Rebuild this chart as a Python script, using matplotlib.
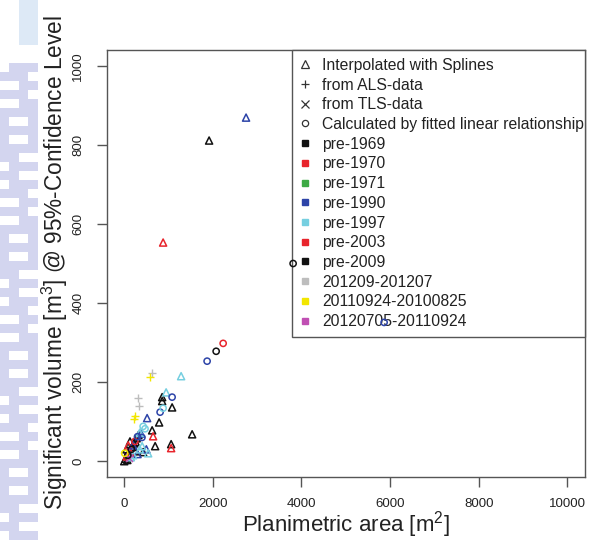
import numpy as np
import matplotlib
matplotlib.use("Agg")
import matplotlib.pyplot as plt
from matplotlib.lines import Line2D
from matplotlib.colors import ListedColormap

plt.rcParams["font.family"] = ["Liberation Sans", "DejaVu Sans"]
plt.rcParams["mathtext.fontset"] = "custom"
plt.rcParams["mathtext.rm"] = "Liberation Sans"
plt.rcParams["mathtext.it"] = "Liberation Sans:italic"

# data: planimetric area, volume, method, period
area = [2750, 1916, 878, 2233, 2075, 1871, 3812, 5866,
        585, 630, 1284, 313, 336, 246, 220, 946, 856, 856, 1081, 1081,
        878, 810, 517, 788, 630, 427, 470, 652, 1533, 1059, 1059, 698,
        404, 427, 500, 540,
        30, 55, 80, 100, 120, 140, 160, 180, 200, 220, 240, 260, 280,
        300, 320, 350, 380, 150, 200, 250, 300, 350, 10, 50, 90, 130,
        400, 0, 70, 110]
volume = [869, 811, 553, 298, 278, 253, 500, 351,
          212, 222, 215, 159, 139, 114, 106, 174, 162, 152, 162, 136,
          134, 124, 109, 98, 78, 88, 82, 63, 68, 43, 33, 38,
          38, 23, 30, 20,
          6, 12, 15, 20, 25, 22, 30, 36, 40, 45, 50, 48, 58,
          62, 66, 72, 70, 10, 15, 25, 18, 30, 20, 30, 40, 50,
          60, 0, 3, 8]
method = ["spline", "spline", "spline", "fit", "fit", "fit", "fit", "fit",
          "ALS", "ALS", "spline", "ALS", "ALS", "ALS", "ALS", "spline",
          "spline", "spline", "fit", "spline",
          "fit", "fit", "spline", "spline", "spline", "fit", "fit", "spline",
          "spline", "spline", "spline", "spline",
          "spline", "spline", "spline", "spline",
          "spline", "spline", "fit", "spline", "spline", "spline", "fit",
          "spline", "spline", "spline", "fit", "spline", "spline",
          "fit", "spline", "spline", "spline", "spline", "spline", "spline",
          "spline", "spline", "fit", "spline", "spline", "spline",
          "fit", "spline", "spline", "TLS"]
period = ["pre-1990", "pre-1969", "pre-1970", "pre-2003", "pre-1969", "pre-1990",
          "pre-2009", "pre-1990",
          "20110924-20100825", "201209-201207", "pre-1997", "201209-201207",
          "201209-201207", "20110924-20100825", "20110924-20100825", "pre-1997",
          "pre-1969", "pre-2009", "pre-1990", "pre-1969",
          "pre-1997", "pre-1990", "pre-1990", "pre-1969", "pre-1969", "pre-1997",
          "pre-1997", "pre-1970", "pre-1969", "pre-1969", "pre-1970", "pre-1969",
          "pre-1997", "pre-1969", "pre-1990", "pre-1997",
          "pre-1969", "pre-1970", "pre-1969", "20120705-20110924", "pre-1969",
          "pre-1970", "pre-1969", "pre-1969", "pre-1990", "pre-1969", "pre-1970",
          "pre-1969", "pre-1969", "pre-1990", "pre-1969", "pre-1997", "pre-1990",
          "pre-1997", "pre-1997", "pre-1969", "pre-1990", "pre-1997",
          "20110924-20100825", "pre-1969", "pre-1970", "pre-1969",
          "pre-1990", "pre-1969", "pre-1969", "20120705-20110924"]

periods = ["pre-1969", "pre-1970", "pre-1971", "pre-1990", "pre-1997",
           "pre-2003", "pre-2009", "201209-201207", "20110924-20100825",
           "20120705-20110924"]
period_colors = ["#111111", "#e8242c", "#3daa45", "#2d44a8", "#76cfe0",
                 "#e8242c", "#111111", "#bdbdbd", "#f2e600", "#c04fb3"]
methods = ["spline", "ALS", "TLS", "fit"]
method_labels = ["Interpolated with Splines", "from ALS-data", "from TLS-data",
                 "Calculated by fitted linear relationship"]
method_markers = ["^", "+", "x", "o"]
method_sizes = [26, 40, 26, 20]

color_of = dict(zip(periods, period_colors))
marker_of = dict(zip(methods, method_markers))
size_of = dict(zip(methods, method_sizes))

fig = plt.figure(figsize=(5.99, 5.40), dpi=100)

# faint scanned background strip on the left edge
bg = fig.add_axes([0, 0, 38 / 599, 1], zorder=-10)
rows, cols = 60, 4
pattern = np.ones((rows, cols))
for r in range(rows):
    for c in range(cols):
        if r >= 7 and ((r * 7 + c * 11) % 13) < 9:
            pattern[r, c] = 0.0
        if r < 5 and c >= 2:
            pattern[r, c] = 0.5
bg.imshow(pattern, cmap=ListedColormap(["#d3d5ef", "#dde9f6", "#ffffff"]),
          aspect="auto", interpolation="nearest", vmin=0, vmax=1)
bg.axis("off")

ax = fig.add_axes([106.5 / 599, 1 - 477 / 540, (585 - 106.5) / 599, (477 - 50) / 540])

area = np.array(area)
volume = np.array(volume)
method = np.array(method)
period = np.array(period)

for m in methods:
    for p in periods:
        sel = (method == m) & (period == p)
        if not sel.any():
            continue
        if marker_of[m] in ("+", "x"):
            ax.scatter(area[sel], volume[sel], marker=marker_of[m], s=size_of[m],
                       c=color_of[p], linewidths=1.0, zorder=6)
        else:
            ax.scatter(area[sel], volume[sel], marker=marker_of[m], s=size_of[m],
                       facecolors="none", edgecolors=color_of[p], linewidths=1.1,
                       zorder=6)

ax.set_xlim(-400, 10400)
ax.set_ylim(-40, 1040)
ax.set_xticks(range(0, 10001, 2000))
ax.set_yticks(range(0, 1001, 200))

axis_col = "#555555"
for sp in ax.spines.values():
    sp.set_color(axis_col)
    sp.set_linewidth(1.0)
ax.tick_params(axis="both", colors=axis_col, length=7, width=1.0,
               labelsize=9.5, labelcolor="#222222")
ax.tick_params(axis="x", pad=8)
ax.tick_params(axis="y", pad=9)
for lab in ax.get_yticklabels():
    lab.set_rotation(90)
    lab.set_va("center")
    lab.set_ha("right")

fig.text(346 / 599, 1 - 532 / 540, r"Planimetric area [m$^2$]",
         ha="center", va="baseline", fontsize=16, color="#222222")
fig.text(55 / 599, 1 - 263 / 540, r"Significant volume [m$^3$] @ 95%-Confidence Level",
         ha="center", va="center", rotation=90, fontsize=16.3, color="#222222")

handles = []
labels = []
for mk, lb in zip(method_markers, method_labels):
    if mk in ("+", "x"):
        h = Line2D([], [], ls="none", marker=mk, color="#333333", ms=6, mew=0.9)
    else:
        h = Line2D([], [], ls="none", marker=mk, mfc="none", mec="#333333",
                   ms=5.5 if mk == "^" else 4.5, mew=0.9)
    handles.append(h)
    labels.append(lb)
for p, col in zip(periods, period_colors):
    handles.append(Line2D([], [], ls="none", marker="s", color=col, ms=5))
    labels.append(p)

x0 = (292 - 106.5) / 478.5
leg = ax.legend(handles, labels, loc="upper left", mode="expand",
                bbox_to_anchor=(x0, 0, 1 - x0, 1), borderaxespad=0,
                fontsize=11.3, handlelength=0.66, handletextpad=0.75,
                borderpad=0.5, labelspacing=0.3, fancybox=False,
                framealpha=1, edgecolor=axis_col)
leg.get_frame().set_linewidth(1.0)
for t in leg.get_texts():
    t.set_color("#222222")

fig.savefig("out.png", dpi=100)
